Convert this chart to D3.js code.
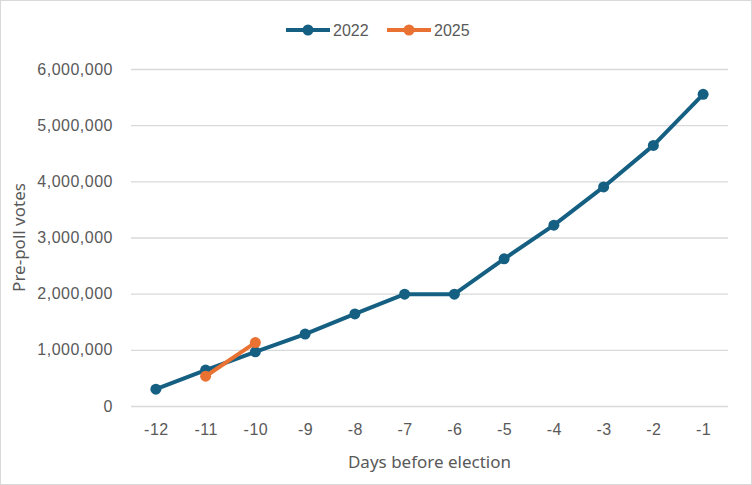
<!DOCTYPE html>
<head>
  <meta charset="utf-8">
  <script src="https://d3js.org/d3.v7.min.js"></script>
  <style>
    body { margin:0; background:#fff; }
    svg { display:block; }
    text { font-family: "Liberation Sans", Arial, sans-serif; fill:#595959; }
  </style>
</head>

<body>
  <script type='text/javascript'>
    // data
    var days = [-12, -11, -10, -9, -8, -7, -6, -5, -4, -3, -2, -1];
    var votes2022 = [300000, 640000, 965000, 1280000, 1640000, 1990000, 1990000, 2620000, 3220000, 3900000, 4640000, 5550000];
    var days2025 = [-11, -10];
    var votes2025 = [530000, 1130000];
    var yTicks = [0, 1000000, 2000000, 3000000, 4000000, 5000000, 6000000];

    var width = 752, height = 485;
    // plot area (note: "top" is reserved on window, so use plot* names)
    var plotLeft = 131, plotRight = 728, plotTop = 69, plotBottom = 406;
    var blue = "#156082", orange = "#e97132";

    var svg = d3.select('body').append('svg')
      .attr('width', width)
      .attr('height', height);

    // outer border
    svg.append('rect')
      .attr('x', 0.5).attr('y', 0.5)
      .attr('width', width - 1).attr('height', height - 1)
      .attr('fill', '#fff')
      .attr('stroke', '#d9d9d9');

    var x = d3.scalePoint()
      .domain(days)
      .range([plotLeft, plotRight])
      .padding(0.5);

    var y = d3.scaleLinear()
      .domain([0, 6000000])
      .range([plotBottom, plotTop]);

    // gridlines + y labels
    var yAxis = d3.axisLeft(y)
      .tickValues(yTicks)
      .tickSize(-(plotRight - plotLeft))
      .tickPadding(18)
      .tickFormat(d3.format(','));

    var gy = svg.append('g')
      .attr('transform', 'translate(' + plotLeft + ',0)')
      .call(yAxis);
    gy.select('.domain').remove();
    gy.selectAll('line').attr('stroke', '#d9d9d9').attr('stroke-width', 1.3);
    gy.selectAll('text')
      .attr('fill', '#595959')
      .style('font-size', '16px')
      .style('letter-spacing', '0.5px')
      .attr('x', -18);

    // x labels
    var xAxis = d3.axisBottom(x).tickSize(0).tickPadding(18);
    var gx = svg.append('g')
      .attr('transform', 'translate(0,' + plotBottom + ')')
      .call(xAxis);
    gx.select('.domain').remove();
    gx.selectAll('text')
      .attr('fill', '#595959')
      .style('font-size', '16px')
      .style('letter-spacing', '0.5px');

    // axis titles
    svg.append('text')
      .attr('x', (plotLeft + plotRight) / 2)
      .attr('y', 468)
      .attr('text-anchor', 'middle')
      .style('font-family', '"Noto Sans", sans-serif')
      .style('font-size', '17px')
      .text('Days before election');

    svg.append('text')
      .attr('transform', 'translate(25,' + (plotTop + plotBottom) / 2 + ') rotate(-90)')
      .attr('text-anchor', 'middle')
      .style('font-family', '"Noto Sans", sans-serif')
      .style('font-size', '17px')
      .text('Pre-poll votes');

    // series
    var series = [
      { name: '2022', color: blue, xs: days, ys: votes2022 },
      { name: '2025', color: orange, xs: days2025, ys: votes2025 }
    ];

    var line = d3.line()
      .x(d => x(d[0]))
      .y(d => y(d[1]));

    series.forEach(function(s) {
      var pts = s.xs.map((d, i) => [d, s.ys[i]]);
      svg.append('path')
        .datum(pts)
        .attr('d', line)
        .attr('fill', 'none')
        .attr('stroke', s.color)
        .attr('stroke-width', 4)
        .attr('stroke-linejoin', 'round');
      svg.selectAll(null)
        .data(pts).enter().append('circle')
        .attr('cx', d => x(d[0]))
        .attr('cy', d => y(d[1]))
        .attr('r', 5.5)
        .attr('fill', s.color);
    });

    // legend
    var legend = svg.append('g');
    var legX = [286, 387];
    series.forEach(function(s, i) {
      var g = legend.append('g').attr('transform', 'translate(' + legX[i] + ',30)');
      g.append('line')
        .attr('x1', 0).attr('x2', 44)
        .attr('stroke', s.color).attr('stroke-width', 4);
      g.append('circle').attr('cx', 22).attr('r', 5.5).attr('fill', s.color);
      g.append('text')
        .attr('x', 47).attr('y', 6)
        .style('font-size', '16px')
        .text(s.name);
    });
  </script>
</body>
